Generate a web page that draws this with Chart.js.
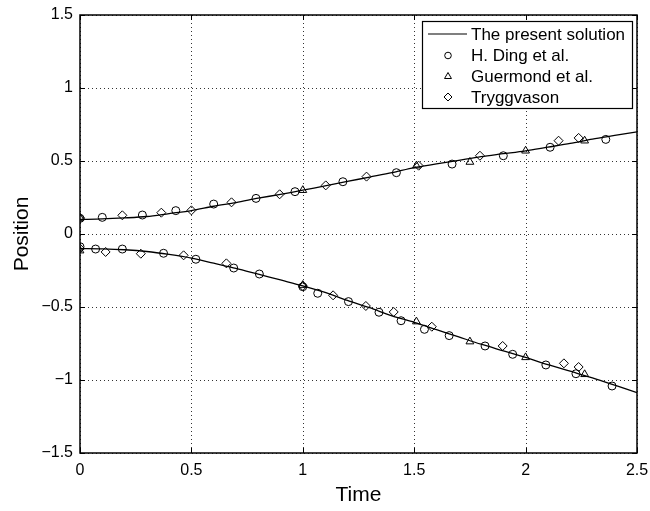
<!DOCTYPE html>
<html><head><meta charset="utf-8">
<script src="https://cdn.jsdelivr.net/npm/chart.js@4/dist/chart.umd.min.js"></script>
<style>html,body{margin:0;padding:0;background:#fff}#wrap{width:650px;height:511px}</style>
</head><body><div id="wrap"><canvas id="c" width="650" height="511"></canvas></div>
<script>
// ---- data ----
const timeLine = [0,0.1,0.2,0.3,0.4,0.5,0.6,0.7,0.8,0.9,1.0,1.1,1.2,1.3,1.4,1.5,1.6,1.7,1.8,1.9,2.0,2.1,2.2,2.3,2.4,2.5];
const upperLine = [0.100,0.103,0.110,0.120,0.140,0.160,0.190,0.215,0.245,0.272,0.300,0.330,0.360,0.390,0.420,0.455,0.480,0.505,0.530,0.550,0.570,0.595,0.620,0.650,0.675,0.700];
const lowerLine = [-0.100,-0.102,-0.108,-0.120,-0.140,-0.165,-0.200,-0.235,-0.275,-0.315,-0.355,-0.400,-0.455,-0.505,-0.560,-0.605,-0.655,-0.705,-0.755,-0.800,-0.845,-0.895,-0.940,-0.985,-1.035,-1.087];

const dingX = [0,0.10,0.28,0.43,0.60,0.79,0.965,1.18,1.42,1.67,1.90,2.11,2.36,
               0,0.07,0.19,0.375,0.52,0.69,0.805,1.0,1.067,1.205,1.342,1.441,1.546,1.657,1.818,1.942,2.091,2.226,2.388];
const dingY = [0.107,0.114,0.13,0.16,0.205,0.244,0.29,0.358,0.42,0.479,0.536,0.594,0.648,
               -0.087,-0.103,-0.103,-0.132,-0.173,-0.233,-0.274,-0.361,-0.406,-0.463,-0.536,-0.594,-0.653,-0.696,-0.767,-0.824,-0.897,-0.957,-1.041];
const guerX = [0,1.0,1.51,1.75,2.0,2.265, 0,1.0,1.51,1.75,2.0,2.265];
const guerY = [0.11,0.30,0.468,0.493,0.57,0.639, -0.114,-0.35,-0.60,-0.737,-0.845,-0.961];
const trygX = [0,0.19,0.365,0.50,0.68,0.896,1.103,1.286,1.52,1.795,2.148,2.238,
               0,0.115,0.273,0.465,0.657,1.0,1.136,1.283,1.408,1.579,1.897,2.172,2.238];
const trygY = [0.11,0.128,0.146,0.162,0.217,0.272,0.333,0.393,0.468,0.536,0.639,0.658,
               -0.10,-0.123,-0.135,-0.146,-0.201,-0.356,-0.42,-0.493,-0.534,-0.635,-0.767,-0.886,-0.911];

const xTicks = [0,0.5,1,1.5,2,2.5];
const yTicks = [-1.5,-1,-0.5,0,0.5,1,1.5];
const legendLabels = ['The present solution','H. Ding et al.','Guermond et al.','Tryggvason'];
const xTitle = 'Time', yTitle = 'Position';

const pts = (xs, ys) => xs.map((x,i)=>({x:x,y:ys[i]}));
const fmt = v => String(v).replace('-', '\u2212');
const FONT = "'Liberation Sans', Arial, Helvetica, sans-serif";

const markerStyle = (shape, r) => ({type:'scatter', showLine:false, pointStyle:shape, pointRadius:r,
  pointBackgroundColor:'rgba(0,0,0,0)', pointBorderColor:'#000', pointBorderWidth:1, borderColor:'#000', backgroundColor:'rgba(0,0,0,0)'});

const datasets = [
  {type:'line', label:legendLabels[0], data:pts(timeLine, upperLine), borderColor:'#000', borderWidth:1.3, pointRadius:0, tension:0.3, fill:false},
  {type:'line', label:'_lower', data:pts(timeLine, lowerLine), borderColor:'#000', borderWidth:1.3, pointRadius:0, tension:0.3, fill:false},
  Object.assign({label:legendLabels[1], data:pts(dingX, dingY)}, markerStyle('circle', 4)),
  Object.assign({label:legendLabels[2], data:pts(guerX, guerY)}, markerStyle('triangle', 4.5)),
  Object.assign({label:legendLabels[3], data:pts(trygX, trygY)}, markerStyle('rectRot', 4.5)),
];

const framePlugin = {
  id:'frame',
  beforeDatasetsDraw(chart){
    const {ctx, chartArea:a, scales:{x, y}} = chart;
    ctx.save();
    ctx.strokeStyle = '#333'; ctx.lineWidth = 1; ctx.setLineDash([1,3]);
    ctx.beginPath();
    xTicks.forEach(v=>{ const px = Math.round(x.getPixelForValue(v))+0.5;
      ctx.moveTo(px, a.top); ctx.lineTo(px, a.bottom); });
    yTicks.forEach(v=>{ const py = Math.round(y.getPixelForValue(v))+0.5;
      ctx.moveTo(a.left, py); ctx.lineTo(a.right, py); });
    ctx.stroke();
    ctx.restore();
  },
  afterDatasetsDraw(chart){
    const {ctx, chartArea:a, scales:{x, y}} = chart;
    ctx.save();
    ctx.strokeStyle = '#000'; ctx.lineWidth = 1;
    ctx.beginPath();
    xTicks.forEach(v=>{ const px = Math.round(x.getPixelForValue(v))+0.5;
      ctx.moveTo(px, a.bottom); ctx.lineTo(px, a.bottom-5);
      ctx.moveTo(px, a.top); ctx.lineTo(px, a.top+5); });
    yTicks.forEach(v=>{ const py = Math.round(y.getPixelForValue(v))+0.5;
      ctx.moveTo(a.left, py); ctx.lineTo(a.left+5, py);
      ctx.moveTo(a.right, py); ctx.lineTo(a.right-5, py); });
    ctx.stroke();
    ctx.lineWidth = 1.5;
    ctx.strokeRect(a.left, a.top, a.right-a.left, a.bottom-a.top);
    // legend
    const bx = 422, by = 21, bw = 210, bh = 87;
    ctx.fillStyle = '#fff'; ctx.fillRect(bx, by, bw, bh);
    ctx.lineWidth = 1.2; ctx.strokeRect(bx+0.5, by+0.5, bw, bh);
    const rows = [34, 55.5, 76.5, 97];
    ctx.lineWidth = 1.2;
    ctx.beginPath(); ctx.moveTo(428, rows[0]); ctx.lineTo(467, rows[0]); ctx.stroke();
    ctx.lineWidth = 1; ctx.fillStyle = '#fff';
    Chart.helpers.drawPoint(ctx, {pointStyle:'circle', radius:3.3, borderWidth:1}, 448, rows[1]);
    Chart.helpers.drawPoint(ctx, {pointStyle:'triangle', radius:4, borderWidth:1}, 448, rows[2]);
    Chart.helpers.drawPoint(ctx, {pointStyle:'rectRot', radius:4, borderWidth:1}, 448, rows[3]);
    ctx.font = "17px " + FONT; ctx.fillStyle = '#000'; ctx.textBaseline = 'middle'; ctx.textAlign = 'left';
    legendLabels.forEach((t,i)=> ctx.fillText(t, 471, rows[i]+1));
    ctx.restore();
  }
};

new Chart(document.getElementById('c'), {
  data:{datasets},
  options:{
    responsive:false, animation:false, events:[],
    layout:{padding:{top:15, right:13, left:0, bottom:0}},
    plugins:{legend:{display:false}, tooltip:{enabled:false}},
    scales:{
      x:{type:'linear', min:0, max:2.5,
        afterBuildTicks(s){ s.ticks = xTicks.map(v=>({value:v})); },
        afterFit(s){ s.height = 58; s.paddingLeft = 0; s.paddingRight = 0; },
        ticks:{callback:v=>fmt(v), color:'#000', font:{size:16, family:FONT}, padding:8, maxRotation:0},
        grid:{display:false, drawTicks:false},
        border:{display:false},
        title:{display:true, text:xTitle, color:'#000', font:{size:21, family:FONT}, padding:{top:0, bottom:3}}
      },
      y:{type:'linear', min:-1.5, max:1.5,
        afterBuildTicks(s){ s.ticks = yTicks.map(v=>({value:v})); },
        afterFit(s){ s.width = 80; s.paddingTop = 0; s.paddingBottom = 0; },
        ticks:{callback:v=>fmt(v), color:'#000', font:{size:16, family:FONT}, padding:7},
        grid:{display:false, drawTicks:false},
        border:{display:false},
        title:{display:true, text:yTitle, color:'#000', font:{size:21, family:FONT}, padding:{top:10, bottom:0}}
      }
    }
  },
  plugins:[framePlugin]
});
</script></body></html>
